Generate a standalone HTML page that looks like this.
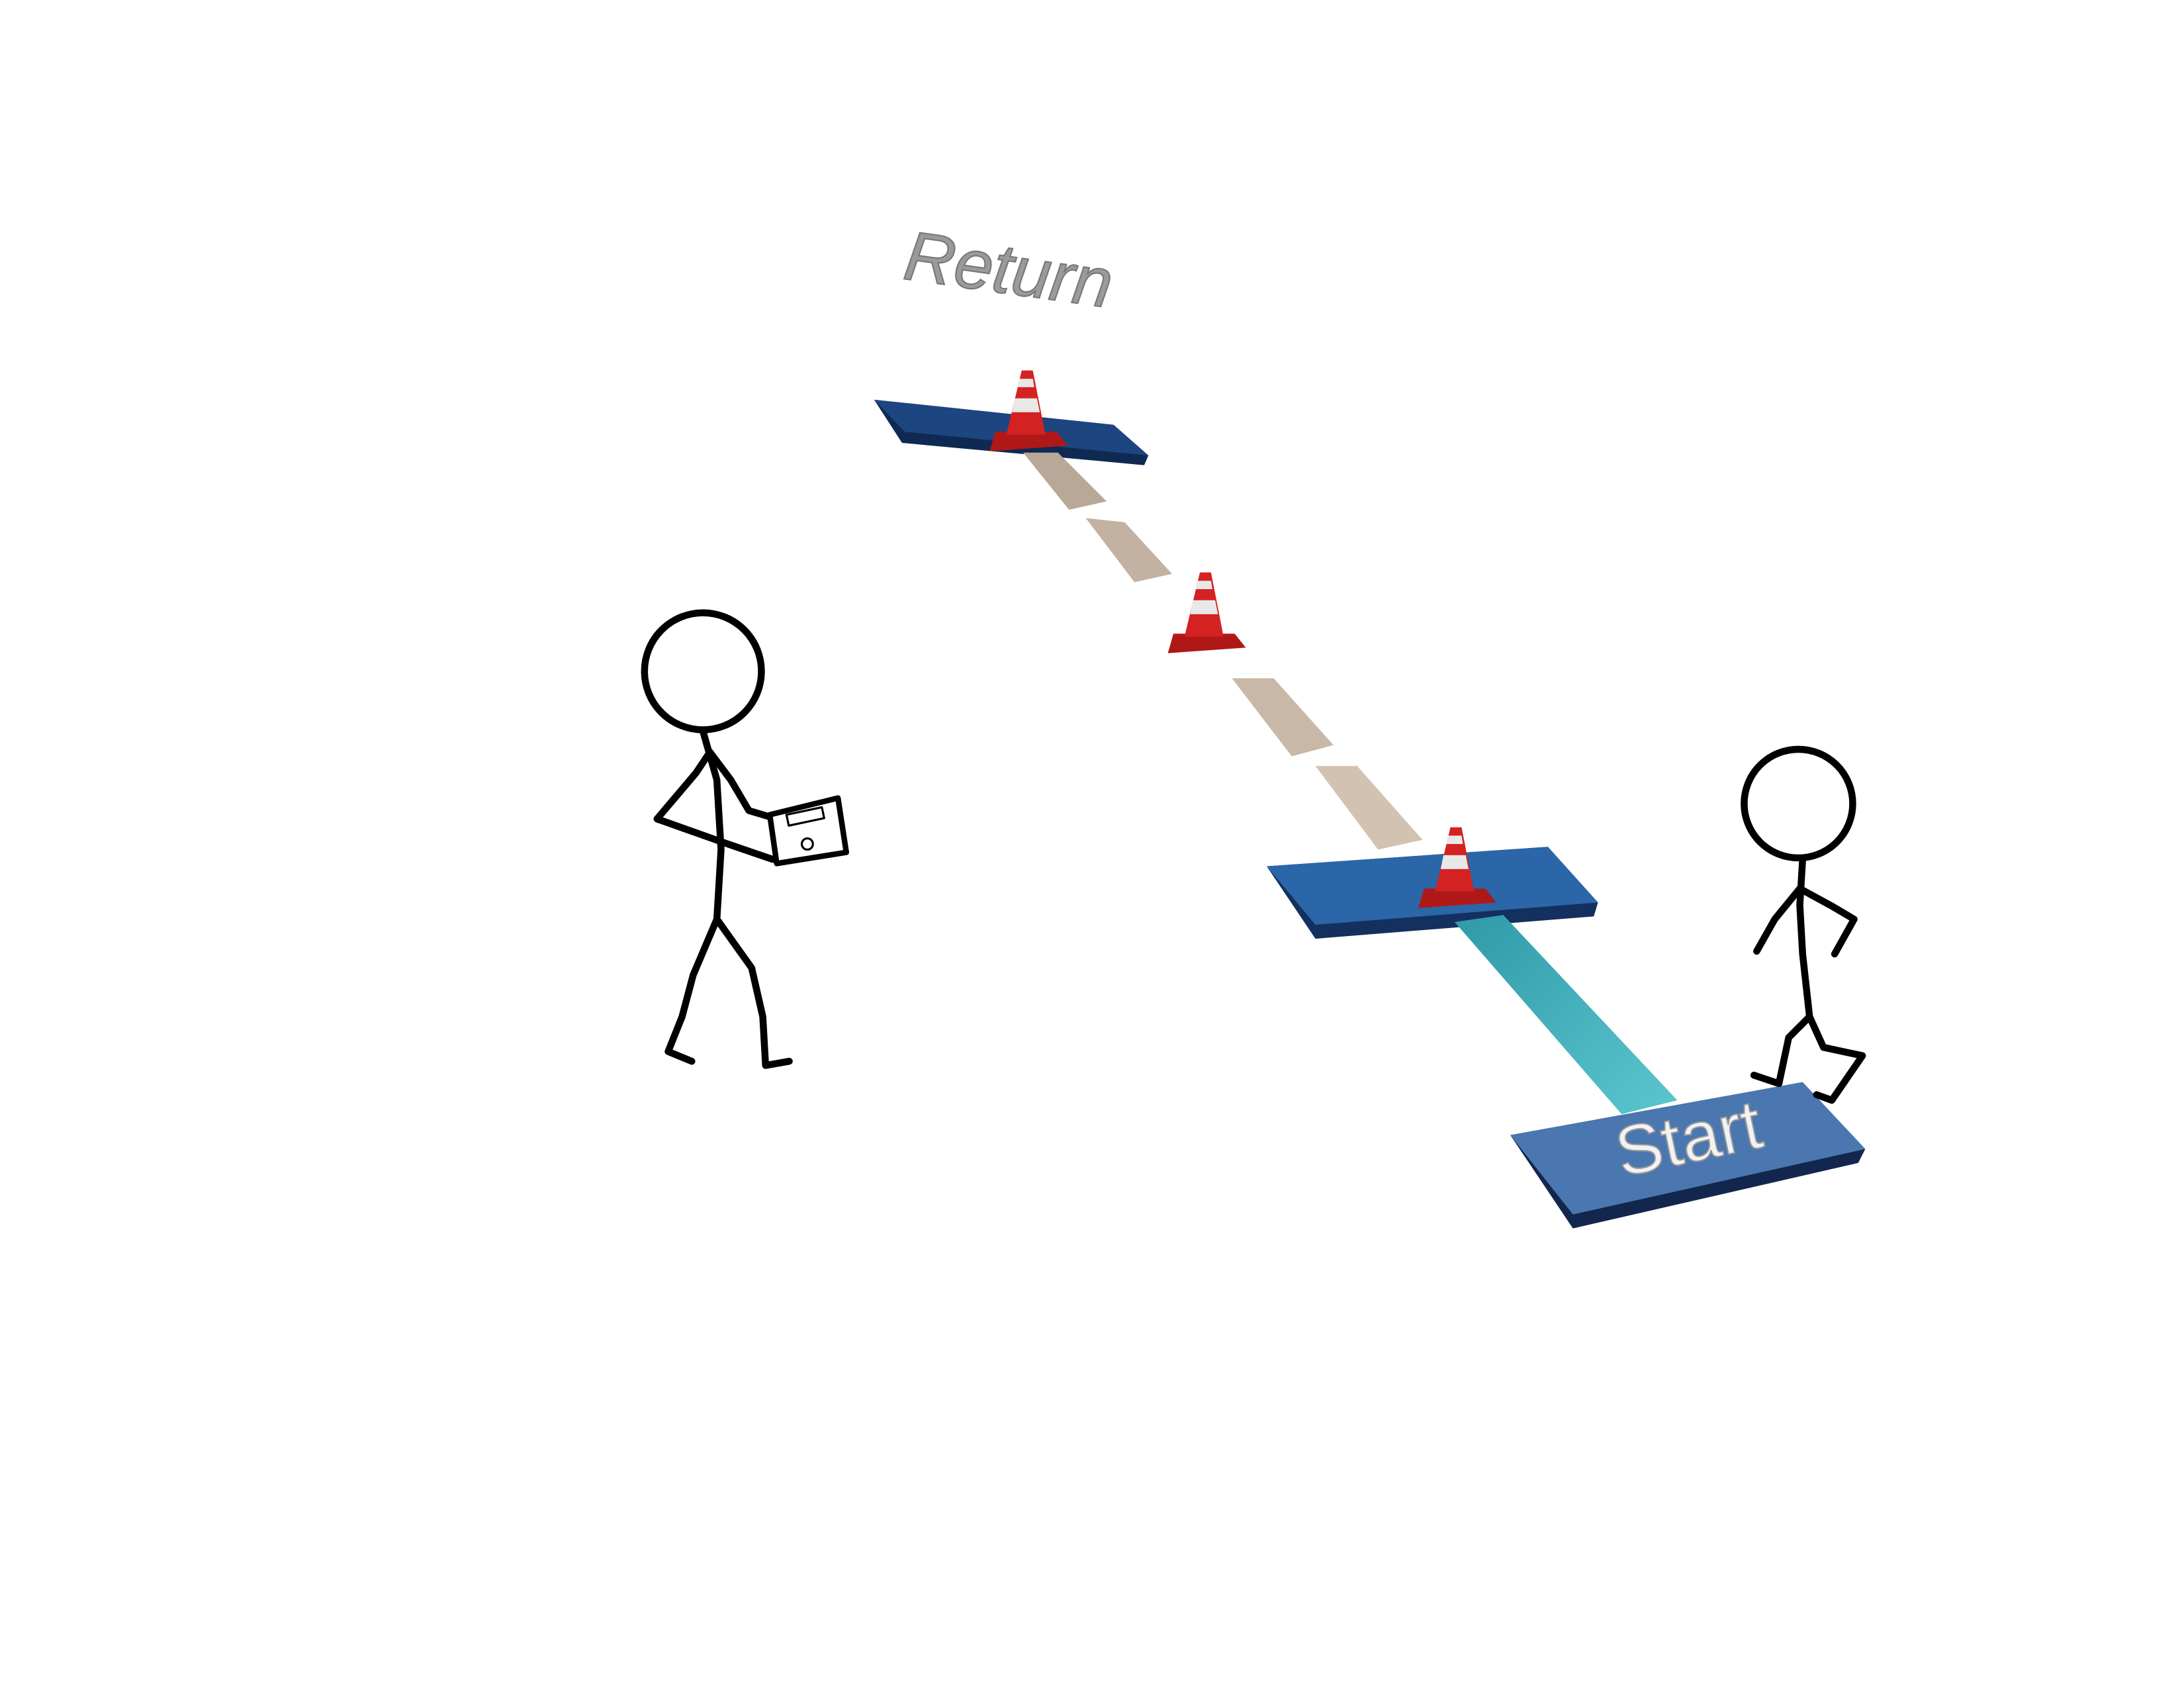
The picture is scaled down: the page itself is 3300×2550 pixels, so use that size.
<!DOCTYPE html>
<html><head><meta charset="utf-8"><style>
html,body{margin:0;padding:0;background:#fff;}
svg{display:block;}
</style></head><body>
<svg width="3300" height="2550" viewBox="0 0 1569 1212" preserveAspectRatio="none" xmlns="http://www.w3.org/2000/svg">
<defs>
<linearGradient id="teal" x1="0" y1="0" x2="1" y2="1"><stop offset="0" stop-color="#2f9aa8"/><stop offset="1" stop-color="#5cc6cf"/></linearGradient>
<g id="cone">
<polygon points="-22,0 22,0 30,10 -26,14" fill="#b01818"/>
<polygon points="-14,2 -3,-44 5,-44 14,2" fill="#d42222"/>
<polygon points="-10,-14 10,-14 8,-24 -8,-24" fill="#e8e8e8"/>
<polygon points="-6,-32 6,-32 5,-38 -5,-38" fill="#e8e8e8"/>
</g>
</defs>
<rect width="1569" height="1212" fill="#fff"/>
<text x="648" y="200" transform="rotate(8 648 200)" font-family="Liberation Sans, sans-serif" font-size="50" font-style="italic" fill="#9a9a9a" stroke="#777" stroke-width="1">Return</text>
<g>
<polygon points="628,287 800,305 825,327 822,334 648,318" fill="#0f2a52"/>
<polygon points="628,287 800,305 825,327 650,310" fill="#1d4580"/>
</g>
<use href="#cone" x="737" y="310"/>
<g>
<polygon points="735,325 760,325 795,360 768,366" fill="#b9a898"/>
<polygon points="780,372 808,375 842,412 815,418" fill="#c3b2a2"/>
<polygon points="885,487 915,487 958,535 928,543" fill="#c9b8a8"/>
<polygon points="945,550 975,550 1022,603 990,610" fill="#d2c2b2"/>
</g>
<use href="#cone" x="865" y="455"/>
<g>
<polygon points="910,622 1112,608 1148,648 1145,658 945,674" fill="#14305e"/>
<polygon points="910,622 1112,608 1148,648 945,664" fill="#2a66a8"/>
</g>
<use href="#cone" x="1045" y="638"/>
<polygon points="1045,662 1080,657 1205,790 1165,800" fill="url(#teal)"/>
<g>
<polygon points="1085,815 1295,777 1340,825 1335,835 1130,882" fill="#13264d"/>
<polygon points="1085,815 1295,777 1340,825 1130,872" fill="#4a77b0"/>
</g>
<text x="1165" y="845" transform="rotate(-12 1165 845)" font-family="Liberation Sans, sans-serif" font-size="50" fill="#f2f2f2" stroke="#999" stroke-width="1">Start</text>
<g fill="none" stroke="#000" stroke-width="5" stroke-linecap="round" stroke-linejoin="round">
<circle cx="505" cy="482" r="42"/>
<polyline points="505,525 515,560 518,610 515,660"/>
<polyline points="515,660 498,700 490,730 480,755 497,762"/>
<polyline points="515,660 540,695 548,730 550,765 567,762"/>
<polyline points="510,540 500,555 472,588 520,605 555,617"/>
<polyline points="510,540 525,560 538,582 558,588"/>
<polygon points="553,585 602,573 608,612 558,620" fill="#fff" stroke-width="4"/>
<rect x="565" y="585" width="26" height="8" stroke-width="1.5" transform="rotate(-12 565 585)"/>
<circle cx="580" cy="606" r="4" stroke-width="1.5"/>
</g>
<g fill="none" stroke="#000" stroke-width="5" stroke-linecap="round" stroke-linejoin="round">
<circle cx="1292" cy="577" r="39"/>
<polyline points="1295,617 1293,650 1295,685 1300,730"/>
<polyline points="1293,638 1275,660 1262,683"/>
<polyline points="1293,638 1315,650 1332,660 1318,685"/>
<polyline points="1300,730 1285,745 1278,778 1260,772"/>
<polyline points="1300,730 1310,752 1338,758 1316,790 1305,786"/>
</g>
</svg>
</body></html>
